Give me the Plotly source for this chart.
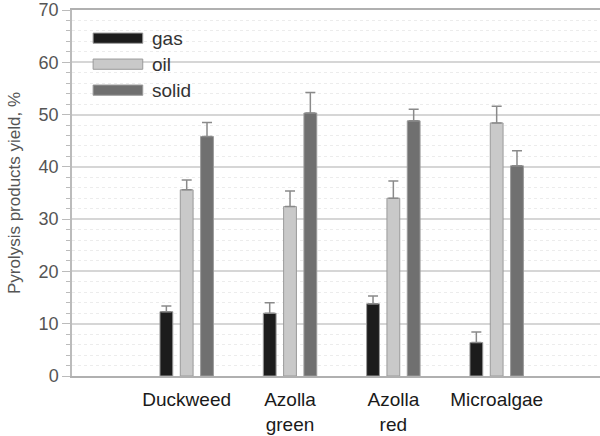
import plotly.graph_objects as go

categories = ["Duckweed", "Azolla<br>green", "Azolla<br>red", "Microalgae"]
gas = [12.3, 12.0, 13.8, 6.4]
gas_err = [1.1, 2.0, 1.5, 2.0]
oil = [35.6, 32.4, 34.0, 48.4]
oil_err = [1.9, 3.0, 3.3, 3.2]
solid = [45.8, 50.3, 48.8, 40.2]
solid_err = [2.7, 3.9, 2.2, 2.9]
series_names = ["gas", "oil", "solid"]
colors = ["#1c1c1c", "#c9c9c9", "#707070"]

fig = go.Figure()
for name, vals, errs, col in zip(series_names, [gas, oil, solid], [gas_err, oil_err, solid_err], colors):
    fig.add_trace(go.Bar(
        x=categories, y=vals, name=name,
        marker=dict(color=col, line=dict(color="#9a9a9a", width=1)),
        error_y=dict(type="data", array=errs, arrayminus=[0]*len(errs), symmetric=False,
                     color="#8a8a8a", thickness=1.5, width=5),
        showlegend=False,
    ))

# custom legend (wide swatches)
leg_y = [0.923, 0.852, 0.781]
for name, col, yy in zip(series_names, colors, leg_y):
    fig.add_shape(type="rect", xref="paper", yref="paper",
                  x0=0.04, x1=0.134, y0=yy - 0.014, y1=yy + 0.014,
                  fillcolor=col, line=dict(color="#9a9a9a", width=1))
    fig.add_annotation(text=name, xref="paper", yref="paper", x=0.148, y=yy,
                       xanchor="left", yanchor="middle", showarrow=False,
                       font=dict(family="Liberation Sans, Arial", size=19, color="#333333"))

fig.update_layout(
    width=600, height=436,
    margin=dict(l=72, r=0, t=10, b=60, autoexpand=False),
    plot_bgcolor="white", paper_bgcolor="white",
    barmode="group", bargap=0.41, bargroupgap=0.37,
    font=dict(family="Liberation Sans, Arial", color="#555555"),
)
fig.update_xaxes(
    range=[-1.11, 4.0], showgrid=False, zeroline=False, automargin=False,
    showline=True, mirror=True, linecolor="#b0b0b0", linewidth=2,
    tickfont=dict(size=19, color="#1a1a1a"), ticks="", ticklabelstandoff=5,
)
fig.update_yaxes(
    range=[0, 70], dtick=10, showline=True, linecolor="#bbbbbb", linewidth=1.5,
    automargin=False, ticklabeloverflow="allow",
    ticks="outside", ticklen=8, tickcolor="#bbbbbb",
    showgrid=True, gridcolor="#d6d6d6", gridwidth=2,
    zeroline=False,
    tickfont=dict(size=18, color="#555555"),
    title=dict(text="Pyrolysis products yield, %", font=dict(size=17, color="#555555"), standoff=14),
    minor=dict(dtick=2, ticks="outside", ticklen=4, tickcolor="#bbbbbb",
               showgrid=True, gridcolor="#ececec", griddash="dot", gridwidth=1),
)
fig.write_html("out.html", config={"displayModeBar": False},
               post_script="document.body.style.margin='0';")
